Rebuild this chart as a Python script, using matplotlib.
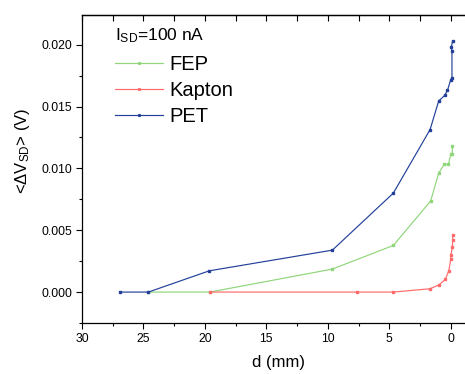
import matplotlib
matplotlib.use("Agg")
import matplotlib.pyplot as plt
from matplotlib.ticker import MultipleLocator

plt.rcParams['font.family'] = ['Liberation Sans', 'DejaVu Sans']
plt.rcParams['mathtext.fontset'] = 'custom'
plt.rcParams['mathtext.rm'] = 'Liberation Sans'
plt.rcParams['mathtext.it'] = 'Liberation Sans:italic'

# Data (d in mm, <dV_SD> in V)
fep_d = [24.6, 19.6, 9.63, 4.67, 1.63, 0.98, 0.52, 0.19, 0.0, -0.13, -0.13]
fep_v = [0.0, 0.0, 0.00186, 0.00377, 0.00737, 0.00963, 0.01033, 0.01033, 0.01114, 0.01114, 0.01179]

kapton_d = [19.6, 7.65, 4.67, 1.68, 0.98, 0.44, 0.16, 0.0, 0.0, -0.13, -0.16, -0.16]
kapton_v = [0.0, 0.0, 0.0, 0.00027, 0.00057, 0.00102, 0.00172, 0.00264, 0.00296, 0.00361, 0.00425, 0.00458]

pet_d = [26.9, 24.6, 19.64, 9.63, 4.67, 1.68, 0.98, 0.49, 0.27, 0.0, -0.1, -0.1, -0.05, -0.15]
pet_v = [0.0, 0.0, 0.00172, 0.00339, 0.0080, 0.01314, 0.01545, 0.0159, 0.0163, 0.01717, 0.01733, 0.0195, 0.0198, 0.0203]

fig = plt.figure(figsize=(4.65, 3.74), dpi=100)
ax = fig.add_axes([82/465, 1-323/374, (465-82)/465, (323-15)/374])

lw = 0.85
ms = 1.5
ax.plot(fep_d, fep_v, color='#8fd67a', lw=lw, marker='s', ms=ms, label='FEP')
ax.plot(kapton_d, kapton_v, color='#ff6b6b', lw=lw, marker='s', ms=ms, label='Kapton')
ax.plot(pet_d, pet_v, color='#22409a', lw=lw, marker='s', ms=ms, label='PET')

ax.set_xlim(30, -1.16)
ax.set_ylim(-0.0025, 0.0224)

ax.xaxis.set_major_locator(MultipleLocator(5))
ax.xaxis.set_minor_locator(MultipleLocator(2.5))
ax.yaxis.set_major_locator(MultipleLocator(0.005))
ax.yaxis.set_minor_locator(MultipleLocator(0.0025))
ax.yaxis.set_major_formatter(matplotlib.ticker.FormatStrFormatter('%.3f'))

ax.tick_params(axis='both', which='major', direction='out', length=4.5, width=0.8,
               labelsize=8.8, pad=2.5, top=False, right=False)
ax.tick_params(axis='both', which='minor', direction='out', length=2.5, width=0.8,
               top=False, right=False)
# inward ticks on the top spine
secx = ax.secondary_xaxis('top')
secx.xaxis.set_major_locator(MultipleLocator(2.5))
secx.tick_params(axis='x', which='major', direction='in', length=4, width=0.8, labeltop=False)
secx.tick_params(axis='x', which='minor', length=0)
secx.spines['top'].set_linewidth(0.9)
for s in ax.spines.values():
    s.set_linewidth(0.9)
ax.spines['right'].set_visible(False)

ax.set_xlabel('d (mm)', fontsize=12)
ax.set_ylabel('<ΔV$_{\\rm SD}$> (V)', fontsize=12)
ax.xaxis.set_label_coords(0.513, -0.105)
ax.yaxis.set_label_coords(-0.13, 0.56)

leg = ax.legend(loc='upper left', bbox_to_anchor=(0.065, 0.99), frameon=False,
                fontsize=14.5, title='I$_{\\rm SD}$=100 nA', title_fontsize=12.5,
                handlelength=2.4, handletextpad=0.3, labelspacing=0.35,
                numpoints=1, markerscale=0.8,
                alignment='left', borderaxespad=0.0)
leg._legend_box.sep += 2.5

fig.savefig('out.png', dpi=100)
